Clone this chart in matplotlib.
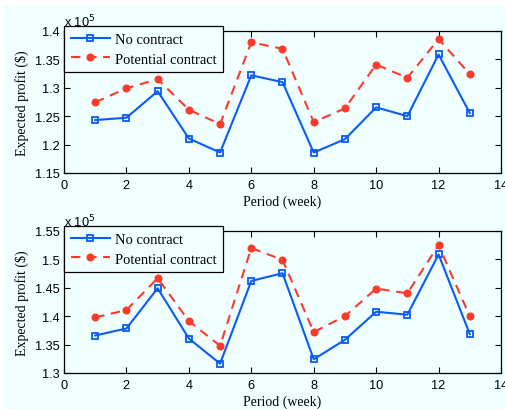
import numpy as np
import matplotlib
matplotlib.use('Agg')
import matplotlib.pyplot as plt
from matplotlib.ticker import FuncFormatter, MultipleLocator

# expected profit per week, in units of 1e5 $
weeks = list(range(1, 14))

top_no_contract = [1.2432, 1.2473, 1.294, 1.2107, 1.186, 1.322, 1.310,
                   1.186, 1.2095, 1.2656, 1.250, 1.3587, 1.2555]
top_potential = [1.2744, 1.2992, 1.3151, 1.2614, 1.2361, 1.380, 1.3687,
                 1.2396, 1.2638, 1.341, 1.3175, 1.3858, 1.324]

bottom_no_contract = [1.366, 1.3784, 1.4492, 1.3607, 1.3165, 1.4621, 1.4757,
                      1.3242, 1.3584, 1.4079, 1.4026, 1.5087, 1.3684]
bottom_potential = [1.3979, 1.4108, 1.4669, 1.3914, 1.3478, 1.520, 1.4993,
                    1.372, 1.4002, 1.4486, 1.4403, 1.5252, 1.3997]

BG = '#f0ffff'
BLUE = '#0a5cf5'
RED = '#ff3a2a'

fig = plt.figure(figsize=(5.06, 4.10), dpi=100, facecolor=BG)

# thin white margin along the top and left edges
fig.patches.append(plt.Rectangle((0, 1 - 5 / 410), 1, 5 / 410,
                                 transform=fig.transFigure, color='white', zorder=-10))
fig.patches.append(plt.Rectangle((0, 0), 3 / 506, 1,
                                 transform=fig.transFigure, color='white', zorder=-10))

ax_top = fig.add_axes([64 / 506, 1 - 174 / 410, 437 / 506, 142 / 410])
ax_bot = fig.add_axes([64 / 506, 1 - 374 / 410, 437 / 506, 142 / 410])


def draw_panel(ax, no_contract, potential, ylim):
    ax.set_facecolor(BG)
    ax.plot(weeks, no_contract, '-', color=BLUE, lw=1.5, marker='s',
            markersize=4.5, markerfacecolor='none', markeredgecolor=BLUE,
            markeredgewidth=1.3, label='No contract')
    ax.plot(weeks, potential, '--', color=RED, lw=1.5, marker='o',
            markersize=4.8, markerfacecolor=RED, markeredgecolor=RED,
            dashes=(4.5, 3.2), label='Potential contract')

    ax.set_xlim(0, 14)
    ax.set_ylim(*ylim)
    ax.xaxis.set_major_locator(MultipleLocator(2))
    ax.yaxis.set_major_locator(MultipleLocator(0.05))
    ax.yaxis.set_major_formatter(FuncFormatter(lambda v, p: '%g' % round(v, 3)))
    ax.tick_params(direction='in', top=True, right=True, length=4, width=0.8,
                   labelsize=9.2)
    ax.tick_params(axis='x', pad=4.5)
    ax.tick_params(axis='y', pad=3)
    for lab in ax.get_xticklabels() + ax.get_yticklabels():
        lab.set_family('Liberation Sans')
    for sp in ax.spines.values():
        sp.set_linewidth(0.9)

    ax.set_xlabel('Period (week)', family='Liberation Serif', fontsize=10, labelpad=2)
    ax.set_ylabel('Expected profit ($)', family='Liberation Serif', fontsize=10, labelpad=4)
    ax.text(0.0, 1.015, r'x 10$^{5}$', transform=ax.transAxes, fontsize=9.2,
            family='Liberation Sans', va='bottom', ha='left')

    leg = ax.legend(loc='upper left', bbox_to_anchor=(0.0, 1.035), fancybox=False,
                    framealpha=1, edgecolor='black', facecolor=BG,
                    prop={'family': 'Liberation Serif', 'size': 10.5},
                    handlelength=2.7, handletextpad=0.35, borderpad=0.45,
                    labelspacing=0.45, borderaxespad=0)
    leg.get_frame().set_linewidth(0.9)
    leg.set_zorder(5)


draw_panel(ax_top, top_no_contract, top_potential, (1.15, 1.4))
draw_panel(ax_bot, bottom_no_contract, bottom_potential, (1.3, 1.55))

fig.savefig('out.png', dpi=100, facecolor=BG)
